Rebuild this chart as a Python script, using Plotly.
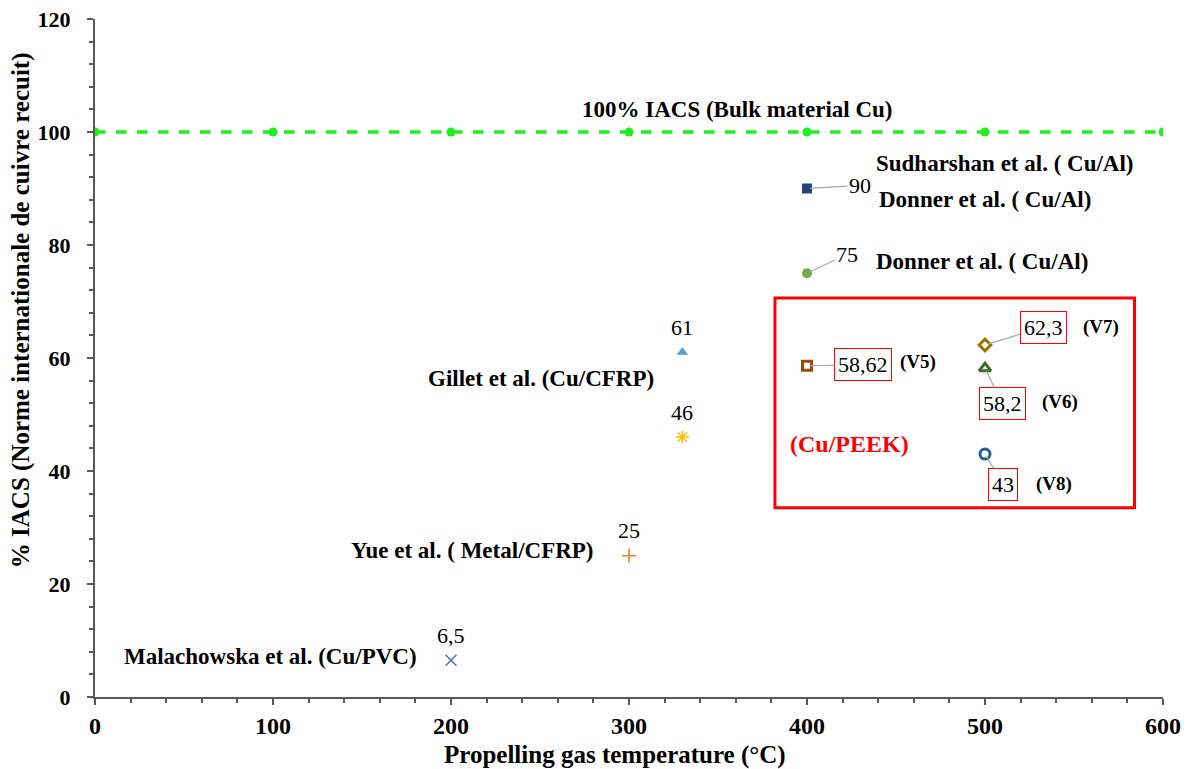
import plotly.graph_objects as go

# ---- data ----
ref_x = [0, 100, 200, 300, 400, 500, 600]
ref_y = [100, 100, 100, 100, 100, 100, 100]

series_names = ["Sudharshan", "Donner", "Gillet", "Gillet46", "Yue", "Malachowska",
                "V5", "V7", "V6", "V8"]
series_x = [400, 400, 330, 330, 300, 200, 400, 500, 500, 500]
series_y = [90, 75, 61, 46, 25, 6.5, 58.62, 62.3, 58.2, 43]
value_labels = ["90", "75", "61", "46", "25", "6,5", "58,62", "62,3", "58,2", "43"]
symbols = ["square", "circle", "triangle-up", "asterisk-open", "cross-thin-open", "x-thin-open",
           "square-open", "diamond-open", "triangle-up-open", "circle-open"]
colors = ["#264478", "#70AD47", "#5B9BD5", "#FFC000", "#ED7D31", "#4472C4",
          "#9E480E", "#997300", "#43682B", "#255E91"]
sizes = [10, 10, 10, 11, 10, 11, 9, 9, 10, 10]

x_title = "Propelling gas temperature (°C)"
y_title = "% IACS (Norme internationale de cuivre recuit)"

FONT = "Liberation Serif"

fig = go.Figure()

fig.add_trace(go.Scatter(
    x=ref_x, y=ref_y, mode="lines+markers",
    line=dict(color="#1FEE1F", width=3.5, dash="dash"),
    marker=dict(symbol="circle", size=9, color="#1FEE1F"),
    showlegend=False, hoverinfo="skip"))

for i in range(len(series_x)):
    open_sym = symbols[i].endswith("open")
    fig.add_trace(go.Scatter(
        x=[series_x[i]], y=[series_y[i]], mode="markers", name=series_names[i],
        marker=dict(symbol=symbols[i], size=sizes[i], color=colors[i],
                    line=dict(color=colors[i], width=3 if i >= 6 else (1.5 if open_sym else 0))),
        showlegend=False))

annotations = []
# values above markers (no leader)
for i in [2, 3, 4, 5]:
    annotations.append(dict(x=series_x[i], y=series_y[i], text=value_labels[i], showarrow=False,
                            yshift=25, font=dict(family=FONT, size=22, color="black")))
# values with leader lines: (index, ax, ay, boxed)
leaders = [(0, 53, -3, False), (1, 40, -19, False), (6, 56, -1, True),
           (7, 58, -18, True), (8, 17, 35, True), (9, 18, 30, True)]
for i, ax, ay, boxed in leaders:
    a = dict(x=series_x[i], y=series_y[i], text=value_labels[i], showarrow=True,
             arrowhead=0, arrowcolor="#A6A6A6", arrowwidth=1.2, ax=ax, ay=ay,
             font=dict(family=FONT, size=22, color="black"), standoff=3)
    if boxed:
        a.update(bordercolor="#FF0000", borderwidth=1, borderpad=3, bgcolor="white")
    annotations.append(a)

# text labels
text_labels = [
    ("100% IACS (Bulk material Cu)", 361, 103.9, "center", "black"),
    ("Sudharshan et al. ( Cu/Al)", 437.6, 94.5, "left", "black"),
    ("Donner et al. ( Cu/Al)", 439.3, 88.0, "left", "black"),
    ("Donner et al. ( Cu/Al)", 437.6, 77.0, "left", "black"),
    ("Gillet et al. (Cu/CFRP)", 315.2, 56.3, "right", "black"),
    ("Yue et al. ( Metal/CFRP)", 281.5, 26.0, "right", "black"),
    ("Malachowska et al. (Cu/PVC)", 182, 7.1, "right", "black"),
    ("(Cu/PEEK)", 389.3, 44.8, "left", "#FF0000"),
    ("(V5)", 451.1, 59.3, "left", "black"),
    ("(V7)", 553.9, 65.5, "left", "black"),
    ("(V6)", 530.9, 52.2, "left", "black"),
    ("(V8)", 527.5, 37.7, "left", "black"),
]
for t, x, y, anc, col in text_labels:
    sz = 24 if t == "(Cu/PEEK)" else (19 if t.startswith("(V") else 23)
    annotations.append(dict(x=x, y=y, text="<b>" + t + "</b>", showarrow=False, xanchor=anc,
                            font=dict(family=FONT, size=sz, color=col)))

# axis titles (placed as paper annotations to match the reference positions)
annotations.append(dict(xref="paper", yref="paper", x=-0.069, y=0.571, text="<b>" + y_title + "</b>",
                        textangle=-90, showarrow=False, xanchor="center", yanchor="middle",
                        font=dict(family=FONT, size=25, color="black")))
annotations.append(dict(xref="paper", yref="paper", x=0.487, y=-0.0855, text="<b>" + x_title + "</b>",
                        showarrow=False, xanchor="center", yanchor="middle",
                        font=dict(family=FONT, size=25, color="black")))

fig.add_shape(type="rect", xref="x", yref="y", x0=382, x1=584, y0=33.5, y1=70.6,
              line=dict(color="#FF0000", width=3))

axis_common = dict(showline=True, linecolor="#595959", linewidth=2, showgrid=False,
                   zeroline=False, ticks="outside", ticklen=6, tickcolor="#595959",
                   tickwidth=1.5, automargin=False, ticklabeloverflow="allow")

fig.update_layout(
    width=1189, height=769,
    margin=dict(l=87, r=34, t=11, b=80),
    plot_bgcolor="white", paper_bgcolor="white",
    annotations=annotations,
    xaxis=dict(range=[0, 600], dtick=100, tick0=0,
               minor=dict(dtick=20, ticks="outside", ticklen=4, tickcolor="#595959"),
               tickfont=dict(family=FONT, size=24, color="black", weight="bold"),
               **axis_common),
    yaxis=dict(range=[0, 120], dtick=20, tick0=0,
               minor=dict(dtick=4, ticks="outside", ticklen=4, tickcolor="#595959"),
               tickfont=dict(family=FONT, size=22, color="black", weight="bold"),
               ticklabelstandoff=12,
               **axis_common),
)

fig.write_html("out.html")
